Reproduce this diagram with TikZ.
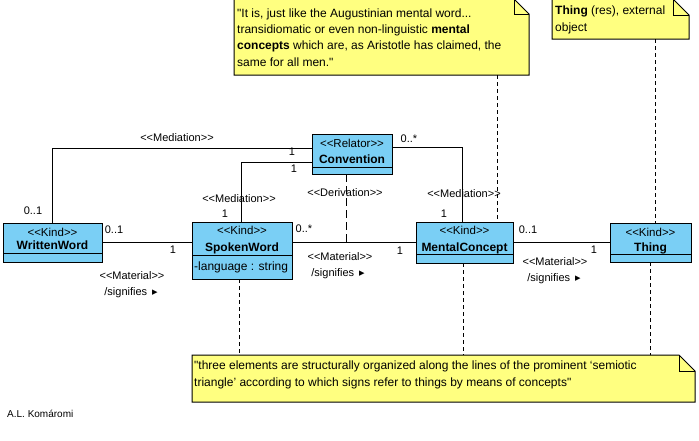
\documentclass[tikz,border=0pt]{standalone}
\usepackage{fontspec}
\setmainfont{Liberation Sans}[Ligatures=TeXOff]
\newfontfamily\dejavu{DejaVu Sans}
\usetikzlibrary{calc}
\definecolor{classblue}{RGB}{122,207,245}
\definecolor{noteyellow}{RGB}{255,255,128}
\tikzset{
  cls/.style={draw, fill=classblue, line width=1pt, inner sep=0pt, outer sep=0pt, anchor=north west},
  notebox/.style={inner sep=0pt, outer sep=0pt, anchor=north west},
  notebg/.style={draw, fill=noteyellow, line width=1pt, line join=miter},
  st/.style={font=\fontsize{11.5}{13}\selectfont, inner sep=0pt, anchor=base},
  nm/.style={font=\fontsize{12}{14}\selectfont\bfseries, inner sep=0pt, anchor=base},
  attr/.style={font=\fontsize{12}{14}\selectfont, inner sep=0pt, anchor=base west},
  lbl/.style={font=\fontsize{11}{13}\selectfont, inner sep=0pt, anchor=base},
  conn/.style={line width=1pt},
  anchorline/.style={line width=1pt, dash pattern=on 4pt off 3pt},
  deriv/.style={line width=1pt, dash pattern=on 8pt off 4pt},
  notetxt/.style={font=\fontsize{12}{14}\selectfont, inner sep=0pt, anchor=base west},
  author/.style={font=\fontsize{10}{12}\selectfont, inner sep=0pt, anchor=base west},
}
\newcommand\sigtri{{\dejavu\fontsize{11}{12}\selectfont\,▸}}
\begin{document}
\begin{tikzpicture}[x=1pt,y=-1pt]
\fill[white] (0,0) rectangle (699,440);
\useasboundingbox (0,0) rectangle (699,440);

% ---------- classes ----------
\node[cls, minimum width=99, minimum height=39] (ww) at (3,223) {};
\draw[conn] ($(ww.north west)+(0,30)$) -- ($(ww.north east)+(0,30)$);
\node[st] (wwst) at (52.5,236) {<<Kind>>};
\node[nm] (wwnm) at (52.5,249.5) {WrittenWord};

\node[cls, minimum width=100, minimum height=57] (sw) at (192,222) {};
\draw[conn] ($(sw.north west)+(0,33)$) -- ($(sw.north east)+(0,33)$);
\node[st] (swst) at (242,234) {<<Kind>>};
\node[nm] (swnm) at (242,251.3) {SpokenWord};
\node[attr] (swat) at (194,270) {-language : string};

\node[cls, minimum width=80, minimum height=40] (conv) at (312,134) {};
\draw[conn] ($(conv.north west)+(0,33)$) -- ($(conv.north east)+(0,33)$);
\node[st] (convst) at (352,147) {<<Relator>>};
\node[nm] (convnm) at (352,163.5) {Convention};

\node[cls, minimum width=97, minimum height=41] (mc) at (416,222) {};
\draw[conn] ($(mc.north west)+(0,32)$) -- ($(mc.north east)+(0,32)$);
\node[st] (mcst) at (464.5,234) {<<Kind>>};
\node[nm] (mcnm) at (464.5,251.3) {MentalConcept};

\node[cls, minimum width=81, minimum height=39] (th) at (610,223) {};
\draw[conn] ($(th.north west)+(0,31)$) -- ($(th.north east)+(0,31)$);
\node[st] (thst) at (650.5,236) {<<Kind>>};
\node[nm] (thnm) at (650.5,251.3) {Thing};

% ---------- mediations ----------
\draw[conn] (conv.west |- 0,148) -| (ww.north -| 52,0);
\node[lbl] (m1a) at (177,141) {<<Mediation>>};
\node[lbl] (m1b) at (292,155) {1};
\node[lbl] (m1c) at (33,214) {0..1};

\draw[conn] (conv.west |- 0,162) -| (sw.north -| 241,0);
\node[lbl] (m2a) at (239,202) {<<Mediation>>};
\node[lbl] (m2b) at (294,172) {1};
\node[lbl] (m2c) at (225,217) {1};

\draw[conn] (conv.east |- 0,147) -| (mc.north -| 462,0);
\node[lbl] (m3a) at (464,197) {<<Mediation>>};
\node[lbl] (m3b) at (409,142) {0..*};
\node[lbl] (m3c) at (444,217) {1};

% ---------- materials ----------
\draw[conn] (ww.east |- 0,242) -- (sw.west |- 0,242);
\node[lbl] (a1) at (114,233) {0..1};
\node[lbl] (a2) at (173,253) {1};
\node[lbl] (a3) at (132,279) {<<Material>>};
\node[lbl] (a4) at (131,295) {/signifies \sigtri};

\draw[conn] (sw.east |- 0,242) -- (mc.west |- 0,242);
\node[lbl] (b1) at (304,232) {0..*};
\node[lbl] (b2) at (400,254) {1};
\node[lbl] (b3) at (340,260) {<<Material>>};
\node[lbl] (b4) at (338,276) {/signifies \sigtri};

\draw[conn] (mc.east |- 0,242) -- (th.west |- 0,242);
\node[lbl] (c1) at (528,233) {0..1};
\node[lbl] (c2) at (594,253) {1};
\node[lbl] (c3) at (555,265) {<<Material>>};
\node[lbl] (c4) at (554,281) {/signifies \sigtri};

% ---------- derivation ----------
\coordinate (dv) at (346,243);
\draw[deriv] (conv.south -| 346,0) -- (dv);
\node[lbl] (dl) at (345,196) {<<Derivation>>};

% ---------- notes ----------
\node[notebox, minimum width=295, minimum height=76] (n1) at (234,-1) {};
\draw[notebg] (n1.north west) -- ($(n1.north east)+(-15,0)$) -- ($(n1.north east)+(0,15)$) -- (n1.south east) -- (n1.south west) -- cycle;
\draw[conn] ($(n1.north east)+(-15,0)$) -- ($(n1.north east)+(-15,15)$) -- ($(n1.north east)+(0,15)$);
\node[notetxt] (n1a) at (237,17) {"It is, just like the Augustinian mental word...};
\node[notetxt] (n1b) at (237,33.3) {transidiomatic or even non-linguistic \textbf{mental}};
\node[notetxt] (n1c) at (237,49.6) {\textbf{concepts} which are, as Aristotle has claimed, the};
\node[notetxt] (n1d) at (237,66) {same for all men."};

\node[notebox, minimum width=137, minimum height=40] (n2) at (552,-1) {};
\draw[notebg] (n2.north west) -- ($(n2.north east)+(-16,0)$) -- ($(n2.north east)+(0,16)$) -- (n2.south east) -- (n2.south west) -- cycle;
\draw[conn] ($(n2.north east)+(-16,0)$) -- ($(n2.north east)+(-16,16)$) -- ($(n2.north east)+(0,16)$);
\node[notetxt] (n2a) at (555,14.5) {\textbf{Thing} (res), external};
\node[notetxt] (n2b) at (555,31) {object};

\node[notebox, minimum width=503, minimum height=47] (n3) at (192,355) {};
\draw[notebg] (n3.north west) -- ($(n3.north east)+(-16,0)$) -- ($(n3.north east)+(0,16)$) -- (n3.south east) -- (n3.south west) -- cycle;
\draw[conn] ($(n3.north east)+(-16,0)$) -- ($(n3.north east)+(-16,16)$) -- ($(n3.north east)+(0,16)$);
\node[notetxt] (n3a) at (194,369) {"three elements are structurally organized along the lines of the prominent ‘semiotic};
\node[notetxt] (n3b) at (194,386) {triangle’ according to which signs refer to things by means of concepts"};

% ---------- note anchors ----------
\draw[anchorline] (n1.south -| 497,0) -- (mc.north -| 497,0);
\draw[anchorline] (n2.south -| 655,0) -- (th.north -| 655,0);
\draw[anchorline] (sw.south -| 239,0) -- (n3.north -| 239,0);
\draw[anchorline] (mc.south -| 463,0) -- (n3.north -| 463,0);
\draw[anchorline] (th.south -| 650,0) -- (n3.north -| 650,0);

% ---------- author ----------
\node[author] (auth) at (7,417) {A.L. Komáromi};
\end{tikzpicture}
\end{document}
